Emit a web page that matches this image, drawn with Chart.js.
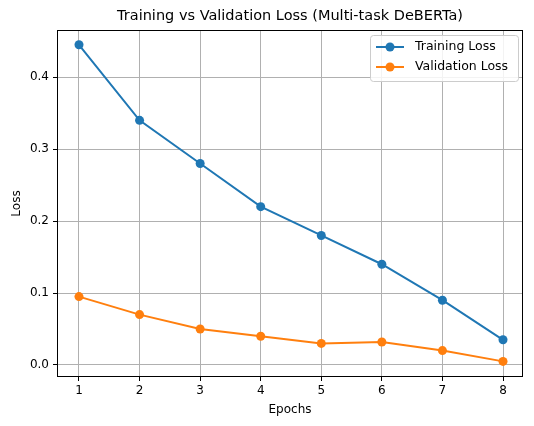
<!DOCTYPE html>
<html><head><meta charset="utf-8">
<script src="https://cdn.jsdelivr.net/npm/chart.js@4"></script>
<style>html,body{margin:0;padding:0;background:#fff}</style>
</head><body>
<canvas id="c" width="534" height="426" style="width:534px;height:426px"></canvas>
<script>
const epochs=[1,2,3,4,5,6,7,8];
const trainLoss=[0.445,0.34,0.28,0.22,0.18,0.14,0.09,0.035];
const valLoss=[0.095,0.07,0.05,0.04,0.03,0.032,0.02,0.005];
const yTicks=[0,0.1,0.2,0.3,0.4];
const FONT='"DejaVu Sans", sans-serif';
const blue='#1f77b4',orange='#ff7f0e';
const deco={id:'deco',afterDraw(ch){
  const c=ch.ctx,a=ch.chartArea;
  c.save();
  c.strokeStyle='#000';c.lineWidth=1;
  c.strokeRect(a.left+0.5,a.top+0.5,a.right-a.left-1,a.bottom-a.top-1);
  c.fillStyle='#000';c.textAlign='center';c.textBaseline='middle';
  c.font='14.5px '+FONT;
  c.fillText('Training vs Validation Loss (Multi-task DeBERTa)',(a.left+a.right)/2,16);
  c.font='12px '+FONT;
  c.fillText('Epochs',(a.left+a.right)/2,410);
  c.translate(17,(a.top+a.bottom)/2);c.rotate(-Math.PI/2);c.fillText('Loss',0,0);
  c.restore();
  c.save();
  const lx=370,ly=35,lw=148,lh=46;
  c.fillStyle='rgba(255,255,255,0.85)';c.strokeStyle='#ccc';c.lineWidth=1;
  c.beginPath();c.roundRect(lx+0.5,ly+0.5,lw,lh,3);c.fill();c.stroke();
  [[blue,'Training Loss'],[orange,'Validation Loss']].forEach((it,i)=>{
    const y=ly+12+i*20;
    c.strokeStyle=it[0];c.lineWidth=2;
    c.beginPath();c.moveTo(lx+6,y);c.lineTo(lx+34,y);c.stroke();
    c.fillStyle=it[0];c.beginPath();c.arc(lx+20,y,4.5,0,Math.PI*2);c.fill();
    c.fillStyle='#000';c.font='12.5px '+FONT;c.textAlign='left';c.textBaseline='middle';
    c.fillText(it[1],lx+45,y);
  });
  c.restore();
}};
new Chart(document.getElementById('c'),{
  type:'line',
  data:{datasets:[
    {label:'Training Loss',data:epochs.map((e,i)=>({x:e,y:trainLoss[i]})),borderColor:blue,backgroundColor:blue,pointRadius:4.5,pointHoverRadius:4.5,borderWidth:2,pointBorderWidth:0},
    {label:'Validation Loss',data:epochs.map((e,i)=>({x:e,y:valLoss[i]})),borderColor:orange,backgroundColor:orange,pointRadius:4.5,pointHoverRadius:4.5,borderWidth:2,pointBorderWidth:0}
  ]},
  options:{
    responsive:false,animation:false,
    layout:{padding:{top:30,right:11,left:0,bottom:0}},
    plugins:{legend:{display:false},tooltip:{enabled:false}},
    scales:{
      x:{type:'linear',min:0.637,max:8.33,
        afterBuildTicks(s){s.ticks=epochs.map(v=>({value:v}));},
        afterFit(s){s.height=49;},
        grid:{color:'#b0b0b0',lineWidth:1,drawTicks:true,tickLength:4,tickColor:'#000'},
        border:{display:false},
        ticks:{color:'#000',font:{family:FONT,size:12},maxRotation:0,padding:3,callback:v=>String(v)}},
      y:{min:-0.0167,max:0.4655,
        afterBuildTicks(s){s.ticks=yTicks.map(v=>({value:v}));},
        afterFit(s){s.width=57;},
        grid:{color:'#b0b0b0',lineWidth:1,drawTicks:true,tickLength:4,tickColor:'#000'},
        border:{display:false},
        ticks:{color:'#000',font:{family:FONT,size:12},padding:4,callback:v=>v.toFixed(1)}}
    }
  },
  plugins:[deco]
});
</script>
</body></html>
